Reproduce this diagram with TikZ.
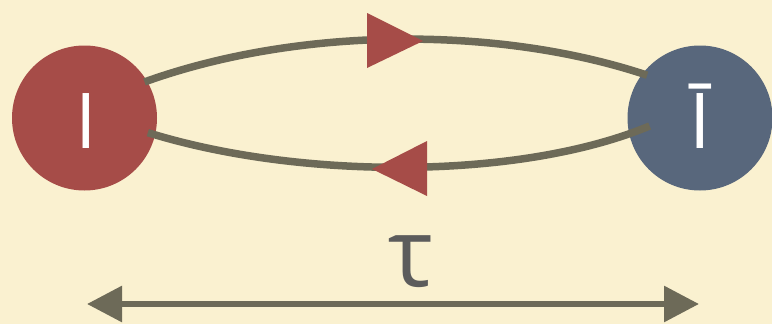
\documentclass[tikz,border=0pt]{standalone}
\usepackage{fontspec}
\setmainfont{Open Sans}
\usetikzlibrary{arrows.meta,calc}
\definecolor{bg}{HTML}{FAF1D0}
\definecolor{redc}{HTML}{A64C48}
\definecolor{bluec}{HTML}{58677C}
\definecolor{linec}{HTML}{6D6A58}
\definecolor{taucol}{HTML}{5C5C5C}
\tikzset{
  ball/.style={circle,minimum size=145pt,inner sep=0pt},
  lbl/.style={anchor=base,inner sep=0pt,text=white,font=\fontsize{77}{77}\selectfont},
  flow/.style={draw=linec,line width=7.5pt},
  head/.style={fill=redc},
  span/.style={draw=linec,line width=6pt,{Triangle[length=35pt,width=35pt]}-{Triangle[length=35pt,width=35pt]}}
}
\begin{document}
\begin{tikzpicture}[x=1pt,y=-1pt]
\fill[bg] (0,0) rectangle (772,324);
\useasboundingbox (0,0) rectangle (772,324);
\node[ball,fill=redc] (L) at (84.5,118) {};
\node[ball,fill=bluec] (R) at (700,118) {};
\node[lbl] (Lt) at (86.5,148) {I};
\node[lbl] (Rt) at (700,148) {Ī};
\coordinate (a1) at ($(L.center)+(-31:70)$);
\coordinate (a2) at ($(R.center)+(-141:68)$);
\coordinate (b1) at ($(L.center)+(13:65)$);
\coordinate (b2) at ($(R.center)+(171:51)$);
\draw[flow] (a1) .. controls (300,26) and (500,26) .. (a2);
\draw[flow] (b2) .. controls (520,180) and (300,180) .. (b1);
\fill[head] (367,13) -- (423,41) -- (367,68) -- cycle;
\fill[head] (427,141) -- (372,169) -- (427,196) -- cycle;
\node[anchor=base,inner sep=0pt,text=taucol,font=\fontsize{95}{95}\selectfont] (tau) at (411,286) {τ};
\coordinate (s1) at (87,304);
\coordinate (s2) at (699,304);
\draw[span] (s1) -- (s2);
\end{tikzpicture}
\end{document}
